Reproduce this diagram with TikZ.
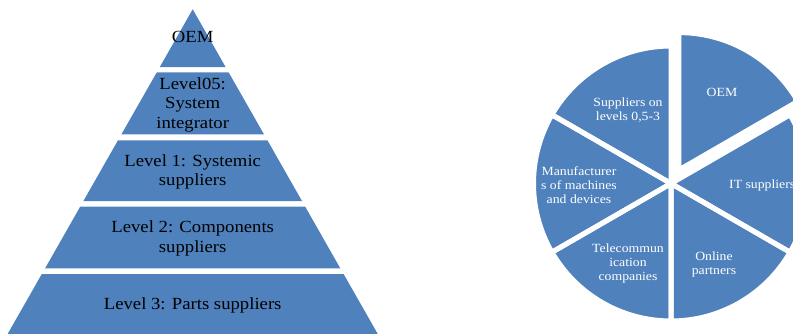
\documentclass[tikz,border=0pt]{standalone}
\usepackage{fontspec}
\setmainfont{Liberation Serif}[FakeStretch=1.1]
\usetikzlibrary{calc}
\definecolor{pieblue}{HTML}{4F81BD}
\tikzset{
  layer/.style={fill=pieblue, draw=none},
  slicefill/.style={fill=pieblue, draw=none},
  slicegap/.style={draw=white, line width=5pt, line join=round},
  pyrtext/.style={text=black, align=center, font=\fontsize{17}{19.5}\selectfont, inner sep=0pt},
  pietext/.style={text=white, align=center, font=\fontsize{12.5}{14}\selectfont, inner sep=0pt}
}
\begin{document}
\begin{tikzpicture}[x=1pt,y=-1pt]
\useasboundingbox (0,0) rectangle (793,333);
\clip (0,0) rectangle (793,333);
% ---------- pyramid ----------
\fill[layer] (192.7,9.3) -- (225.6,67) -- (159.8,67) -- cycle;
\fill[layer] (156.8,72.3) -- (228.6,72.3) -- (263.95,134.3) -- (121.45,134.3) -- cycle;
\fill[layer] (118.0,140.3) -- (267.4,140.3) -- (302.0,201) -- (83.4,201) -- cycle;
\fill[layer] (80.2,206.7) -- (305.2,206.7) -- (340.3,268.3) -- (45.1,268.3) -- cycle;
\fill[layer] (41.8,274) -- (343.6,274) -- (381.2,340) -- (4.2,340) -- cycle;
\node[pyrtext] (p0) at (192.7,37) {OEM};
\node[pyrtext] (p1) at (192.7,104.5) {Level05:\\System\\integrator};
\node[pyrtext] (p2) at (192.7,172) {Level 1: Systemic\\suppliers};
\node[pyrtext] (p3) at (192.7,238.5) {Level 2: Components\\suppliers};
\node[pyrtext] (p4) at (192.7,305) {Level 3: Parts suppliers};
% ---------- pie ----------
\coordinate (c) at (671,183.5);
\coordinate (co) at ($(c)+(-60:15.5)$);
\def\R{137.5}
% fills
\fill[slicefill] (co) -- +(-90:\R) arc[start angle=-90, end angle=-30, radius=\R] -- cycle;
\foreach \a/\b in {-30/30, 30/90, 90/150, 150/210, 210/270}
  \fill[slicefill] (c) -- +(\a:\R) arc[start angle=\a, end angle=\b, radius=\R] -- cycle;
% white gaps
\draw[slicegap] (co) -- +(-90:\R) arc[start angle=-90, end angle=-30, radius=\R] -- cycle;
\foreach \a/\b in {-30/30, 30/90, 90/150, 150/210, 210/270}
  \draw[slicegap] (c) -- +(\a:\R) arc[start angle=\a, end angle=\b, radius=\R] -- cycle;
% labels
\node[pietext] (s1) at (722,92) {OEM};
\node[pietext, anchor=west] (s2) at (729,185) {IT suppliers};
\node[pietext] (s3) at (714,264) {Online\\partners};
\node[pietext] (s4) at (628,263.5) {Telecommun\\ication\\companies};
\node[pietext] (s5) at (579,185) {Manufacturer\\s of machines\\and devices};
\node[pietext] (s6) at (628,110) {Suppliers on\\levels 0,5-3};
\end{tikzpicture}
\end{document}
